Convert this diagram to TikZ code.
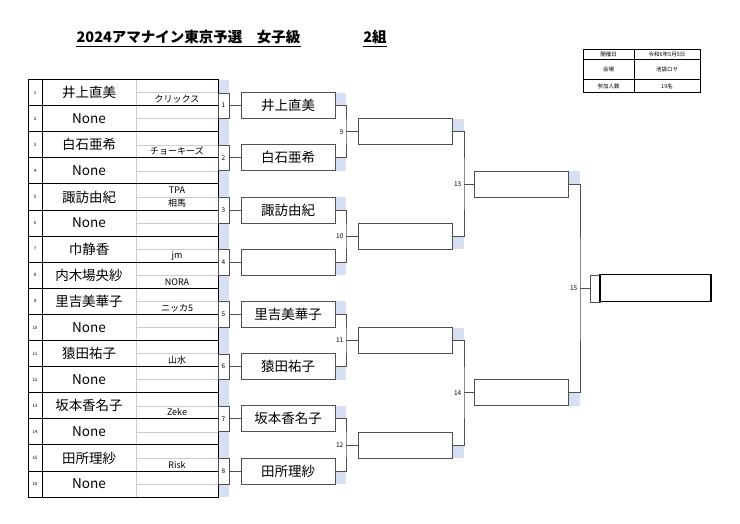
\documentclass[tikz,border=0pt]{standalone}
\usepackage{fontspec}
\setmainfont{Noto Sans CJK JP}
\usetikzlibrary{calc}
\definecolor{shadeblue}{RGB}{214,224,242}
\definecolor{ln}{RGB}{80,80,80}
\definecolor{lgray}{RGB}{205,205,205}
\begin{document}
\begin{tikzpicture}[x=1pt,y=-1pt,
  tline/.style={line width=0.9pt, draw=black},
  rownum/.style={font=\fontsize{4.5}{5}\selectfont, inner sep=0},
  pname/.style={font=\fontsize{13.5}{15}\selectfont, inner sep=0},
  club/.style={font=\fontsize{9}{10}\selectfont, inner sep=0},
  mbox/.style={draw=ln, line width=0.6pt, fill=white, minimum width=11pt, minimum height=25.6pt, inner sep=0, font=\fontsize{6.5}{7}\selectfont},
  rbox/.style={draw=ln, line width=0.8pt, fill=white, minimum width=94pt, minimum height=26pt, inner sep=0, font=\fontsize{13.5}{15}\selectfont},
  br/.style={draw=ln, line width=0.8pt},
  lbl/.style={font=\fontsize{6.5}{7}\selectfont, inner sep=0, anchor=east},
  info/.style={font=\fontsize{5.5}{6}\selectfont, inner sep=0},
  shd/.style={fill=shadeblue, draw=none}
]
\useasboundingbox (0,0) rectangle (740,523);
\fill[white] (0,0) rectangle (740,523);

% ---------- title ----------
\node[font=\bfseries\fontsize{14.5}{16}\selectfont, inner sep=0, anchor=base] (ttl) at (188.5,42.5) {2024アマナイン東京予選　女子級};
\draw[line width=1pt] (ttl.west |- 0,46) -- (ttl.east |- 0,46);
\node[font=\bfseries\fontsize{14.5}{16}\selectfont, inner sep=0, anchor=base] (grp) at (375,42.5) {2組};
\draw[line width=1pt] (grp.west |- 0,46) -- (grp.east |- 0,46);

% ---------- info table ----------
\draw[line width=0.6pt] (583,49.5) rectangle (700,92.5);
\draw[line width=0.6pt] (583,59.5) -- (700,59.5) (583,79.5) -- (700,79.5) (634,49.5) -- (634,92.5);
\node[info] (i1) at (608.5,54.5) {開催日};
\node[info] (i2) at (667,54.5) {令和6年5月5日};
\node[info] (i3) at (608.5,69.5) {会場};
\node[info] (i4) at (667,69.5) {池袋ロサ};
\node[info] (i5) at (608.5,86) {参加人数};
\node[info] (i6) at (667,86) {19名};

% ---------- shading ----------
\fill[shadeblue] (218,79.5) rectangle (229,497.1);
\foreach \k in {1,...,8}{
  \pgfmathsetmacro\c{79.5+(2*\k-1)*26.1}
  \ifodd\k \fill[shadeblue] (335,\c-13) rectangle (346,\c); \else \fill[shadeblue] (335,\c) rectangle (346,\c+13); \fi
}
\foreach \j in {1,...,4}{
  \pgfmathsetmacro\c{79.5+(4*\j-2)*26.1}
  \ifodd\j \fill[shadeblue] (452,\c-13) rectangle (464,\c); \else \fill[shadeblue] (452,\c) rectangle (464,\c+13); \fi
}
\foreach \j in {1,2}{
  \pgfmathsetmacro\c{79.5+(8*\j-4)*26.1}
  \ifodd\j \fill[shadeblue] (569,\c-13) rectangle (580,\c); \else \fill[shadeblue] (569,\c) rectangle (580,\c+13); \fi
}

% ---------- player table ----------
\foreach \i in {1,...,16}{
  \pgfmathsetmacro\ym{79.5+(\i-0.5)*26.1}
  \draw[lgray, line width=0.4pt] (136,\ym) -- (218,\ym);
}
\draw[lgray, line width=0.5pt] (136,79.5) -- (136,497.1);
\foreach \i in {1,...,15}{
  \pgfmathsetmacro\yb{79.5+\i*26.1}
  \draw[tline] (28,\yb) -- (218,\yb);
}
\draw[line width=0.8pt] (42,79.5) -- (42,497.1);
\draw[line width=1pt] (28,79.5) rectangle (218,497.1);

\foreach \i/\nm in {1/井上直美,2/None,3/白石亜希,4/None,5/諏訪由紀,6/None,7/巾静香,8/内木場央紗,9/里吉美華子,10/None,11/猿田祐子,12/None,13/坂本香名子,14/None,15/田所理紗,16/None}{
  \pgfmathsetmacro\ym{79.5+(\i-0.5)*26.1}
  \node[rownum] (n\i) at (35,\ym) {\i};
  \node[pname] (p\i) at (89,\ym) {\nm};
}

\node[club] (c1) at (177,99.1) {クリックス};
\node[club] (c3) at (177,151.3) {チョーキーズ};
\node[club] (c5a) at (177,190.6) {TPA};
\node[club] (c5b) at (177,203.5) {相馬};
\node[club] (c7) at (177,255.7) {jm};
\node[club] (c8) at (177,281.8) {NORA};
\node[club] (c9) at (177,307.9) {ニッカ5};
\node[club] (c11) at (177,360.1) {山水};
\node[club] (c13) at (177,412.3) {Zeke};
\node[club] (c15) at (177,464.5) {Risk};

% ---------- round 1 ----------
\foreach \k/\nm in {1/井上直美,2/白石亜希,3/諏訪由紀,4/{},5/里吉美華子,6/猿田祐子,7/坂本香名子,8/田所理紗}{
  \pgfmathsetmacro\c{79.5+(2*\k-1)*26.1}
  \node[mbox] (m\k) at (223.5,\c) {\k};
  \node[rbox] (r\k) at (288,\c) {\nm};
  \draw[br] (m\k.east) -- (r\k.west);
}

% ---------- round 2 ----------
\foreach \j in {1,...,4}{
  \pgfmathsetmacro\c{79.5+(4*\j-2)*26.1}
  \pgfmathtruncatemacro\a{2*\j-1}
  \pgfmathtruncatemacro\b{2*\j}
  \pgfmathtruncatemacro\n{8+\j}
  \node[rbox] (s\n) at (405,\c) {};
  \coordinate (b\n) at (346,\c);
  \draw[br] (r\a.east) -| (b\n) |- (r\b.east);
  \draw[br] (b\n) -- (s\n.west);
  \node[lbl] (l\n) at (343.5,\c) {\n};
}

% ---------- round 3 ----------
\foreach \j in {1,2}{
  \pgfmathsetmacro\c{79.5+(8*\j-4)*26.1}
  \pgfmathtruncatemacro\a{8+2*\j-1}
  \pgfmathtruncatemacro\b{8+2*\j}
  \pgfmathtruncatemacro\n{12+\j}
  \node[rbox] (t\n) at (521.5,\c) {};
  \coordinate (b\n) at (464,\c);
  \draw[br] (s\a.east) -| (b\n) |- (s\b.east);
  \draw[br] (b\n) -- (t\n.west);
  \node[lbl] (l\n) at (461.5,\c) {\n};
}

% ---------- final ----------
\pgfmathsetmacro\cf{79.5+8*26.1}
\node[draw=ln, line width=0.6pt, fill=white, minimum width=10pt, minimum height=27pt, inner sep=0] (fn) at (595,\cf) {};
\node[draw=black, line width=1.3pt, fill=white, minimum width=111pt, minimum height=27pt, inner sep=0] (f15) at (655.5,\cf) {};
\coordinate (b15) at (580,\cf);
\draw[br] (t13.east) -| (b15) |- (t14.east);
\draw[br] (b15) -- (fn.west);
\node[lbl] (l15) at (577.5,\cf) {15};
\end{tikzpicture}
\end{document}
